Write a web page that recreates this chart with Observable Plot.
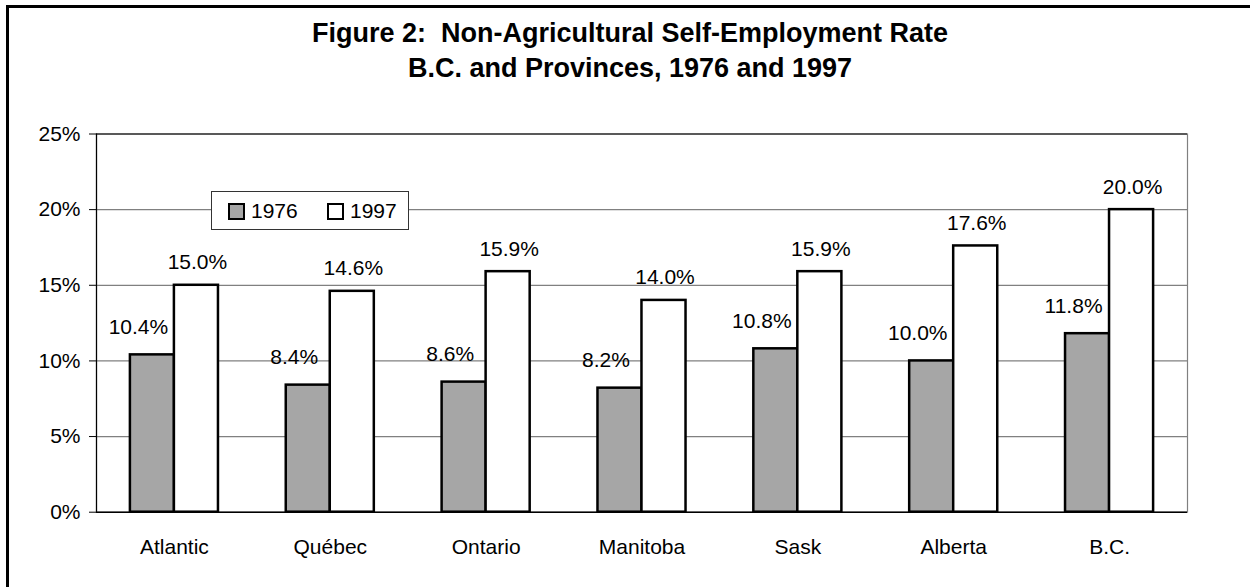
<!DOCTYPE html>
<html>
<head>
<meta charset="utf-8">
<script src="https://cdn.jsdelivr.net/npm/d3@7"></script>
<script src="https://cdn.jsdelivr.net/npm/@observablehq/plot@0.6"></script>
<style>
  html, body { margin: 0; padding: 0; background: #fff; overflow: hidden; }
  body { width: 1250px; height: 587px; position: relative; font-family: "Liberation Sans", Arial, sans-serif; color: #000; }
  #frame { position: absolute; left: 6px; top: 5px; width: 1300px; height: 700px; border-left: 3px solid #000; border-top: 3px solid #000; }
  #title { position: absolute; left: 5px; width: 1250px; top: 16px; text-align: center; font-weight: bold; font-size: 27px; line-height: 35px; }
  #chart { position: absolute; left: 0; top: 120px; }
  #legend { position: absolute; left: 211px; top: 191px; width: 196px; height: 37px; border: 1px solid #333; background: #fff; font-size: 21px; }
  #legend .item { position: absolute; top: 0; height: 37px; line-height: 37px; }
  #legend .sw { position: absolute; top: 11px; width: 13px; height: 13px; border: 2px solid #000; }
</style>
</head>
<body>
<div id="frame"></div>
<div id="title">Figure 2:&nbsp; Non-Agricultural Self-Employment Rate<br>B.C. and Provinces, 1976 and 1997</div>
<div id="chart"></div>
<div id="legend"></div>
<script>
const provinces = ["Atlantic", "Québec", "Ontario", "Manitoba", "Sask", "Alberta", "B.C."];
const rate1976 = [10.4, 8.4, 8.6, 8.2, 10.8, 10.0, 11.8];
const rate1997 = [15.0, 14.6, 15.9, 14.0, 15.9, 17.6, 20.0];
const years = ["1976", "1997"];
const yTicks = [0, 5, 10, 15, 20, 25];
const gridTicks = [5, 10, 15, 20];

const colors = {"1976": "#a6a6a6", "1997": "#ffffff"};

const rows1976 = provinces.map((p, i) => ({province: p, year: "1976", value: rate1976[i]}));
const rows1997 = provinces.map((p, i) => ({province: p, year: "1997", value: rate1997[i]}));

const fmt = d => d.toFixed(1) + "%";
const half = 44;

const chart = Plot.plot({
  width: 1250,
  height: 467,
  marginLeft: 96,
  marginRight: 63,
  marginTop: 13.5,
  marginBottom: 75.3,
  style: {fontFamily: "'Liberation Sans', Arial, sans-serif", fontSize: "21px", color: "#000", background: "transparent"},
  x: {domain: provinces, paddingInner: 0.435, paddingOuter: 0.2175, round: false, label: null},
  y: {domain: [0, 25], label: null},
  marks: [
    Plot.ruleY(gridTicks, {stroke: "#808080", strokeWidth: 1.2}),
    Plot.frame({stroke: "#808080", strokeWidth: 1.2}),
    Plot.ruleY([25], {stroke: "#000", strokeWidth: 1.2}),
    Plot.barY(rows1976, {x: "province", y: "value", fill: colors["1976"], stroke: "#000", strokeWidth: 2.5, insetRight: half}),
    Plot.barY(rows1997, {x: "province", y: "value", fill: colors["1997"], stroke: "#000", strokeWidth: 2.5, insetLeft: half}),
    Plot.ruleY([0], {stroke: "#000", strokeWidth: 1.5}),
    Plot.text(rows1976, {x: "province", y: "value", text: d => fmt(d.value), lineAnchor: "bottom", dx: -36, dy: -21, fontSize: 21, fill: "#000"}),
    Plot.text(rows1997, {x: "province", y: "value", text: d => fmt(d.value), lineAnchor: "bottom", dx: 23, dy: -16, fontSize: 21, fill: "#000"}),
    Plot.axisY({ticks: yTicks, tickFormat: d => d + "%", tickSize: 7, tickPadding: 9, fontSize: 21, label: null}),
    Plot.axisX({tickSize: 0, tickPadding: 27, fontSize: 21, label: null}),
    Plot.frame({anchor: "left", stroke: "#000", strokeWidth: 1.2})
  ]
});
document.getElementById("chart").appendChild(chart);

// legend
const legend = document.getElementById("legend");
const legendPos = [{sw: 16, tx: 39}, {sw: 115, tx: 138}];
years.forEach((y, i) => {
  const sw = document.createElement("div");
  sw.className = "sw";
  sw.style.left = legendPos[i].sw + "px";
  sw.style.background = colors[y];
  legend.appendChild(sw);
  const t = document.createElement("div");
  t.className = "item";
  t.style.left = legendPos[i].tx + "px";
  t.textContent = y;
  legend.appendChild(t);
});
</script>
</body>
</html>
